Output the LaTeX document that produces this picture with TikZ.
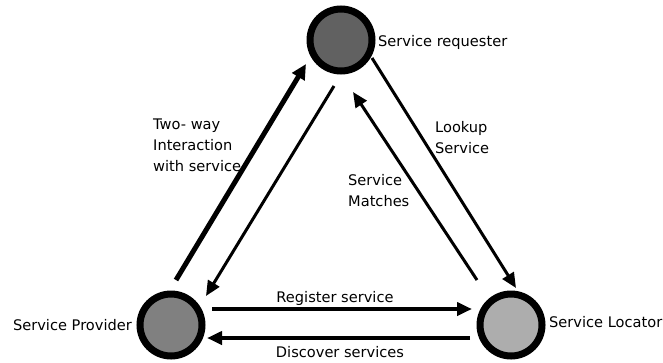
\documentclass[tikz,border=0pt]{standalone}
\usepackage{fontspec}
\setmainfont{DejaVu Sans}
\usetikzlibrary{arrows.meta}
\begin{document}
\begin{tikzpicture}[x=1pt,y=-1pt,
  party/.style={circle,draw=black,line width=7pt,minimum size=62pt,inner sep=0pt},
  lbl/.style={font=\fontsize{14.6}{21}\selectfont,inner sep=0pt},
  flow/.style={line width=3pt,-{Triangle[length=15pt,width=13pt]}},
  heavy/.style={line width=5pt,-{Triangle[length=15pt,width=14pt]}}]
\useasboundingbox (0,0) rectangle (663,362);
% the three parties
\node[party,fill=black!62] (req) at (341,40) {};
\node[party,fill=black!50] (prov) at (171,325) {};
\node[party,fill=black!32] (loc) at (511,325) {};
% their names
\node[lbl,anchor=west] (reqn) at (378,42) {Service requester};
\node[lbl,anchor=east] (provn) at (132,325) {Service Provider};
\node[lbl,anchor=west] (locn) at (549,322) {Service Locator};
% connector end points
\coordinate (p1) at (176,280);
\coordinate (r1) at (306,64);
\coordinate (r2) at (334,86);
\coordinate (p2) at (206,296);
\coordinate (r3) at (372,58);
\coordinate (l3) at (516,288);
\coordinate (l4) at (477,280);
\coordinate (r4) at (353,92);
\coordinate (p5) at (212,309);
\coordinate (l5) at (472,309);
\coordinate (l6) at (470,338);
\coordinate (p6) at (207,338);
% connectors
\draw[heavy] (p1) -- (r1);
\draw[flow] (r2) -- (p2);
\draw[flow] (r3) -- (l3);
\draw[flow] (l4) -- (r4);
\draw[flow,line width=4pt] (p5) -- (l5);
\draw[flow,line width=4pt] (l6) -- (p6);
% connector labels
\node[lbl,anchor=north west,align=left] (two) at (153,119) {Two- way\\Interaction\\with service};
\node[lbl,anchor=north west,align=left] (look) at (435,121) {Lookup\\Service};
\node[lbl,anchor=north west,align=left] (match) at (348,174) {Service\\Matches};
\node[lbl] (reg) at (335,298) {Register service};
\node[lbl] (disc) at (340,352) {Discover services};
\end{tikzpicture}
\end{document}
